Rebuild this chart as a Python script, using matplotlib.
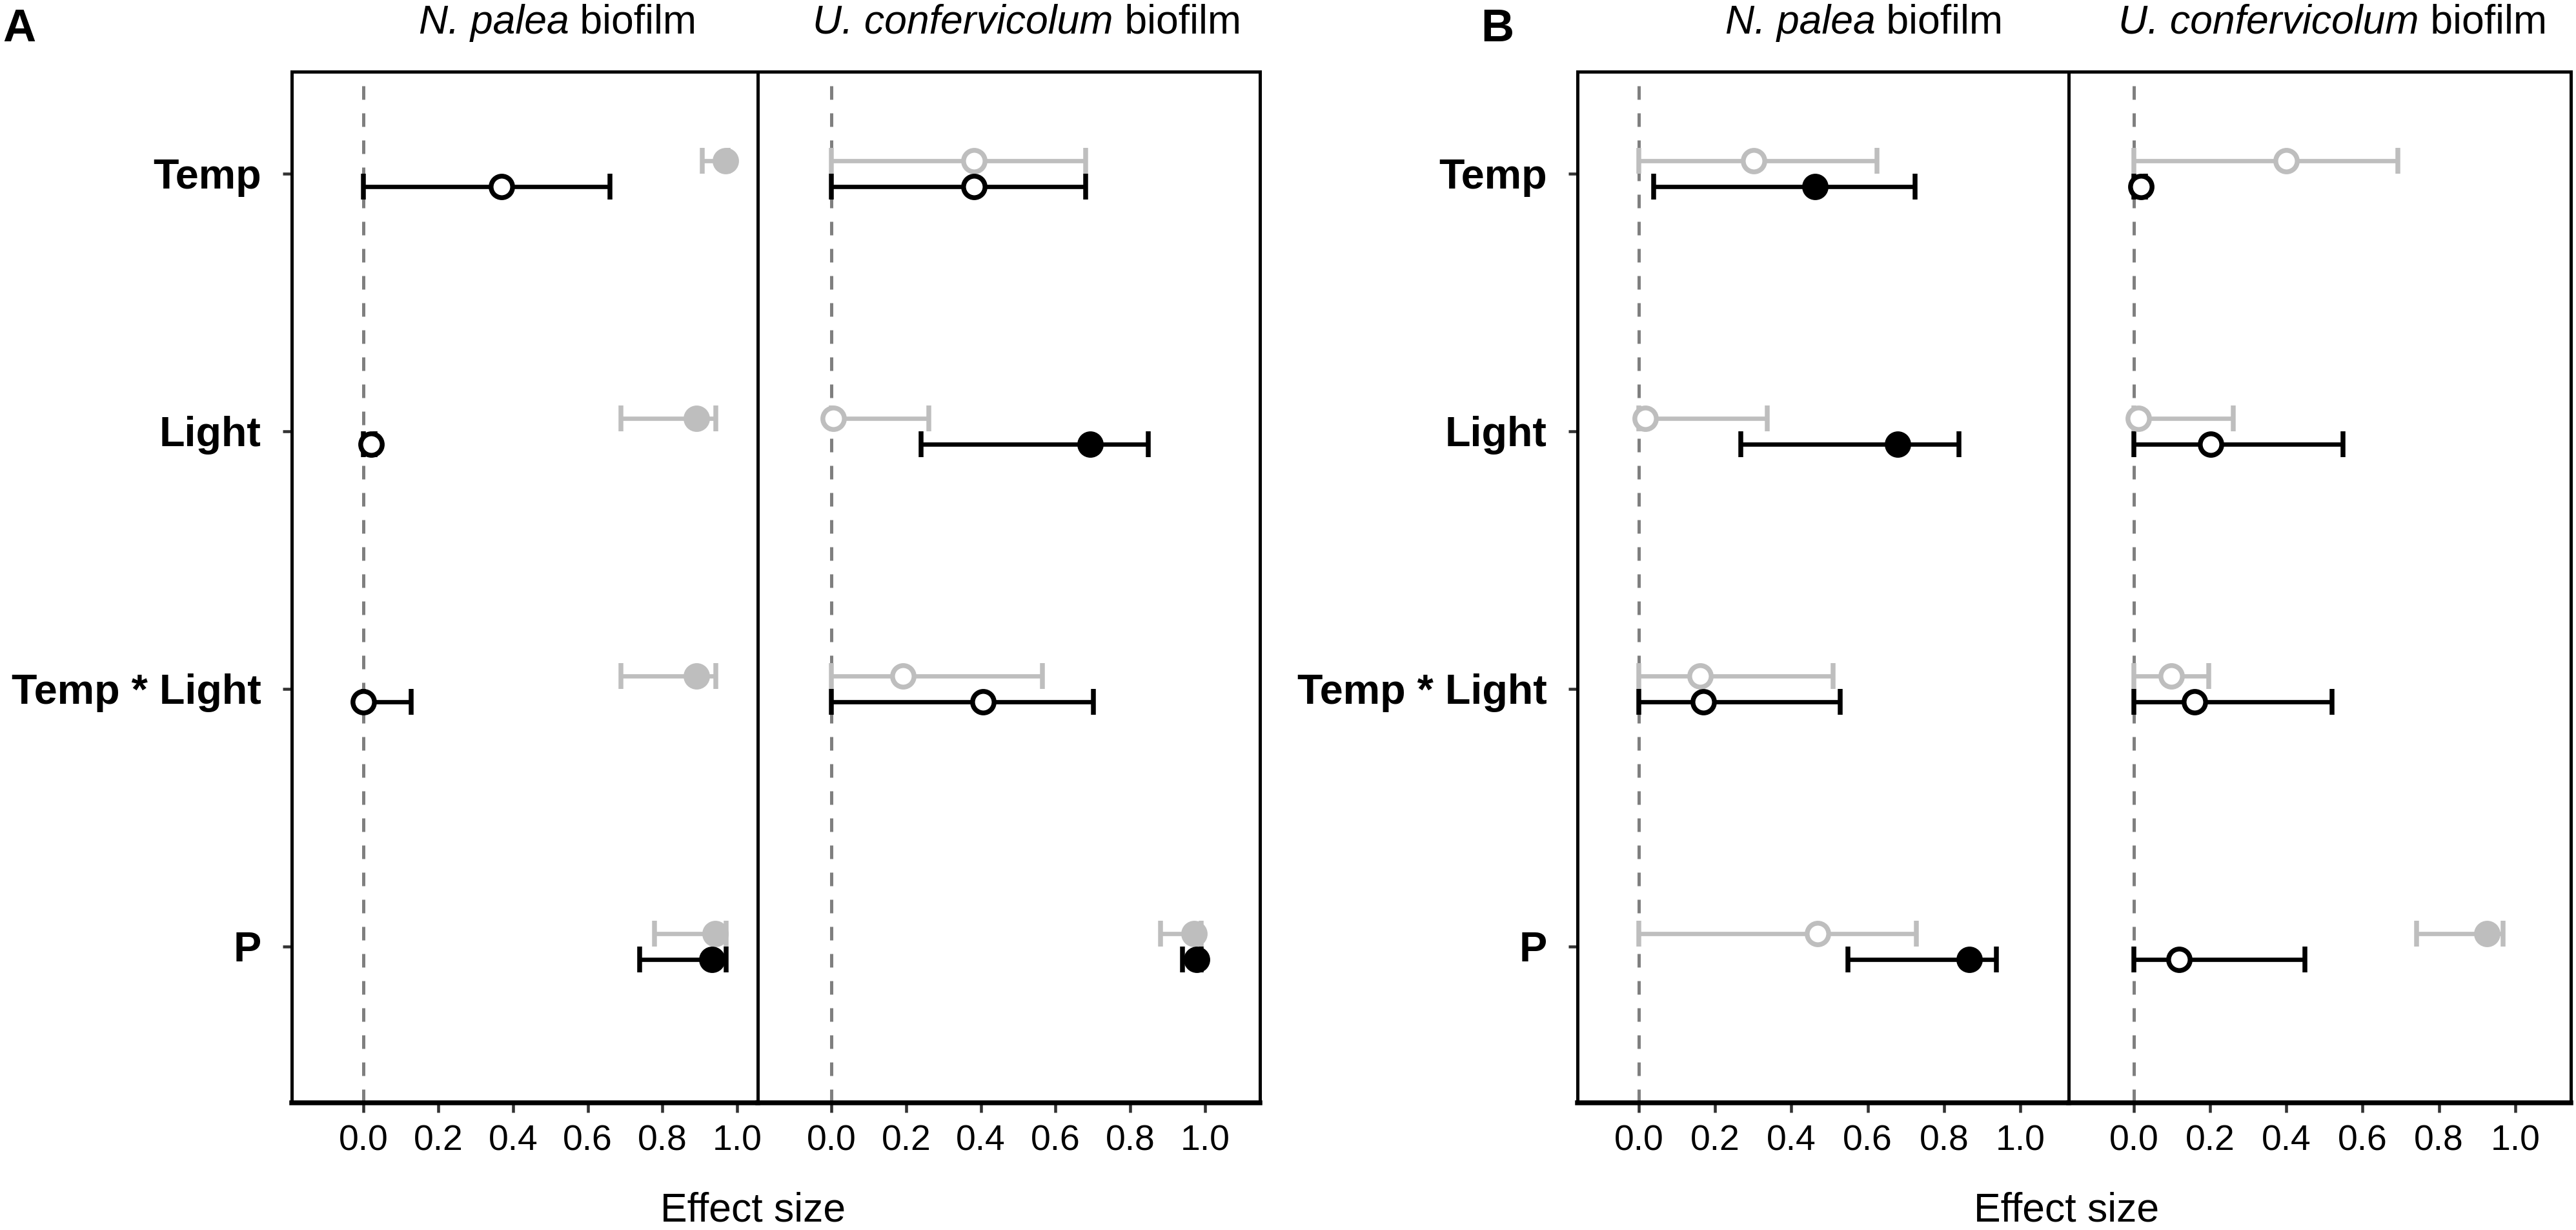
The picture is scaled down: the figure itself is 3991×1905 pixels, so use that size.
import matplotlib
matplotlib.use("Agg")
import matplotlib.pyplot as plt
from matplotlib.ticker import FormatStrFormatter

plt.rcParams['font.family'] = 'Liberation Sans'

# model terms, top to bottom
terms = ["Temp", "Light", "Temp * Light", "P"]
ticks_x = [0.0, 0.2, 0.4, 0.6, 0.8, 1.0]

# ---- panel A, N. palea biofilm ----
a_np_grey_est = [0.969, 0.891, 0.891, 0.941]
a_np_grey_lo = [0.907, 0.689, 0.689, 0.779]
a_np_grey_hi = [0.975, 0.942, 0.942, 0.971]
a_np_grey_sig = [True, True, True, True]
a_np_black_est = [0.369, 0.021, 0.0, 0.933]
a_np_black_lo = [0.0, 0.0, 0.0, 0.739]
a_np_black_hi = [0.660, 0.030, 0.127, 0.971]
a_np_black_sig = [False, False, False, True]

# ---- panel A, U. confervicolum biofilm ----
a_uc_grey_est = [0.381, 0.005, 0.192, 0.971]
a_uc_grey_lo = [0.0, 0.0, 0.0, 0.881]
a_uc_grey_hi = [0.681, 0.260, 0.565, 0.990]
a_uc_grey_sig = [False, False, False, True]
a_uc_black_est = [0.381, 0.692, 0.406, 0.978]
a_uc_black_lo = [0.0, 0.240, 0.0, 0.940]
a_uc_black_hi = [0.681, 0.848, 0.701, 0.990]
a_uc_black_sig = [False, True, False, True]

# ---- panel B, N. palea biofilm ----
b_np_grey_est = [0.301, 0.017, 0.161, 0.468]
b_np_grey_lo = [0.0, 0.0, 0.0, 0.0]
b_np_grey_hi = [0.624, 0.337, 0.509, 0.728]
b_np_grey_sig = [False, False, False, False]
b_np_black_est = [0.462, 0.678, 0.169, 0.866]
b_np_black_lo = [0.039, 0.268, 0.0, 0.548]
b_np_black_hi = [0.724, 0.839, 0.528, 0.937]
b_np_black_sig = [True, True, False, True]

# ---- panel B, U. confervicolum biofilm ----
b_uc_grey_est = [0.400, 0.011, 0.099, 0.926]
b_uc_grey_lo = [0.0, 0.0, 0.0, 0.741]
b_uc_grey_hi = [0.692, 0.260, 0.197, 0.969]
b_uc_grey_sig = [False, False, False, True]
b_uc_black_est = [0.019, 0.202, 0.159, 0.118]
b_uc_black_lo = [0.0, 0.0, 0.0, 0.0]
b_uc_black_hi = [0.030, 0.548, 0.520, 0.448]
b_uc_black_sig = [False, False, False, False]

GREY = "#bebebe"
BLACK = "#000000"
ypos = [4, 3, 2, 1]
dodge = 0.05

W, H = 3991, 1905
fig = plt.figure(figsize=(W / 300, H / 300), dpi=300)


def px_axes(x0, x1, y0=111, y1=1708):
    return fig.add_axes([x0 / W, 1 - y1 / H, (x1 - x0) / W, (y1 - y0) / H])


def draw_facet(ax, grey, black, xlim, show_y):
    ax.axvline(0, color="#7f7f7f", lw=1.2, ls=(0, (4.2, 4.2)), zorder=1)
    for (est, lo, hi, sig), col, off in [(grey, GREY, dodge), (black, BLACK, -dodge)]:
        y = [v + off for v in ypos]
        err = [[e - l for e, l in zip(est, lo)], [h - e for e, h in zip(est, hi)]]
        ax.errorbar(est, y, xerr=err, fmt="none", ecolor=col, elinewidth=1.6,
                    capsize=4.9, capthick=1.8, zorder=2)
    for (est, lo, hi, sig), col, off in [(grey, GREY, dodge), (black, BLACK, -dodge)]:
        for e, s, yy in zip(est, sig, ypos):
            ax.plot(e, yy + off, "o", ms=8, mew=1.8, mec=col,
                    mfc=col if s else "white", zorder=3, clip_on=False)
    ax.set_xlim(*xlim)
    ax.set_ylim(0.393, 4.396)
    ax.set_xticks(ticks_x)
    ax.xaxis.set_major_formatter(FormatStrFormatter('%.1f'))
    ax.tick_params(axis="x", length=3.6, width=1.1, color="#333333",
                   labelsize=13.3, pad=4.5)
    if show_y:
        ax.set_yticks(ypos)
        ax.set_yticklabels(terms, fontweight="bold", fontsize=15.5)
        ax.tick_params(axis="y", length=3.4, width=1.1, color="#333333", pad=8)
    else:
        ax.set_yticks([])
    for sp in ax.spines.values():
        sp.set_linewidth(1.2)
        sp.set_color("black")
    ax.spines["bottom"].set_linewidth(1.8)


ax = px_axes(452, 1174)
draw_facet(ax, (a_np_grey_est, a_np_grey_lo, a_np_grey_hi, a_np_grey_sig),
           (a_np_black_est, a_np_black_lo, a_np_black_hi, a_np_black_sig),
           (-0.192, 1.055), True)
ax = px_axes(1174, 1952)
draw_facet(ax, (a_uc_grey_est, a_uc_grey_lo, a_uc_grey_hi, a_uc_grey_sig),
           (a_uc_black_est, a_uc_black_lo, a_uc_black_hi, a_uc_black_sig),
           (-0.197, 1.147), False)
ax = px_axes(2444, 3205)
draw_facet(ax, (b_np_grey_est, b_np_grey_lo, b_np_grey_hi, b_np_grey_sig),
           (b_np_black_est, b_np_black_lo, b_np_black_hi, b_np_black_sig),
           (-0.161, 1.127), True)
ax = px_axes(3205, 3983)
draw_facet(ax, (b_uc_grey_est, b_uc_grey_lo, b_uc_grey_hi, b_uc_grey_sig),
           (b_uc_black_est, b_uc_black_lo, b_uc_black_hi, b_uc_black_sig),
           (-0.171, 1.146), False)

# facet titles: italic species name followed by upright "biofilm"
renderer = fig.canvas.get_renderer()
title_fs = 15
for xc, species in [(864, "N. palea"), (1591, "U. confervicolum"),
                    (2888, "N. palea"), (3614, "U. confervicolum")]:
    t1 = fig.text(0, 1 - 52 / H, species, style="italic", fontsize=title_fs,
                  ha="left", va="baseline")
    t2 = fig.text(0, 1 - 52 / H, " biofilm", fontsize=title_fs,
                  ha="left", va="baseline")
    w1 = t1.get_window_extent(renderer).width
    w2 = t2.get_window_extent(renderer).width
    x0 = xc - (w1 + w2) / 2
    t1.set_x(x0 / W)
    t2.set_x((x0 + w1) / W)

# panel letters
fig.text(4 / W, 1 - 64 / H, "A", ha="left", va="baseline", fontsize=17, fontweight="bold")
fig.text(2294 / W, 1 - 64 / H, "B", ha="left", va="baseline", fontsize=17, fontweight="bold")

# x axis titles
fig.text(1167 / W, 1 - 1891 / H, "Effect size", ha="center", va="baseline", fontsize=15)
fig.text(3202 / W, 1 - 1891 / H, "Effect size", ha="center", va="baseline", fontsize=15)

fig.savefig("out.png", dpi=300)
